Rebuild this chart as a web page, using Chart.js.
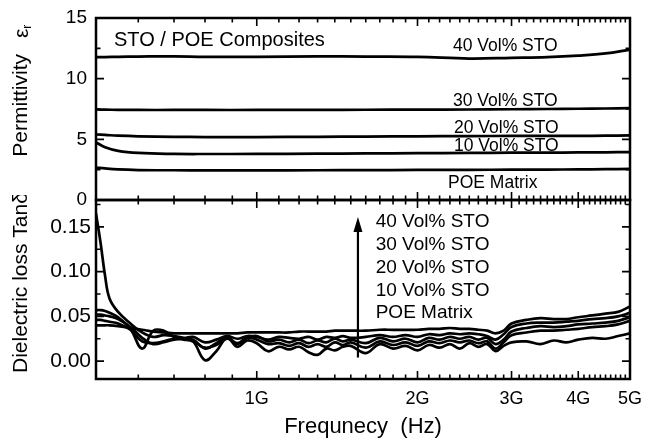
<!DOCTYPE html>
<html>
<head>
<meta charset="utf-8">
<script src="https://cdn.jsdelivr.net/npm/chart.js@4.4.1/dist/chart.umd.min.js"></script>
<style>
  body { margin: 0; background: #fff; }
  #wrap { position: relative; width: 646px; height: 442px; }
  canvas { position: absolute; left: 0; }
</style>
</head>
<body>
<div id="wrap">
  <canvas id="perm" width="646" height="212" style="top:0"></canvas>
  <canvas id="loss" width="646" height="247" style="top:195px"></canvas>
</div>
<script>
const perm = document.getElementById('perm').getContext('2d');
const loss = document.getElementById('loss').getContext('2d');

const FONT = "'Liberation Sans', Arial, Helvetica, sans-serif";

let seriesNames = ['40 Vol% STO', '30 Vol% STO', '20 Vol% STO', '10 Vol% STO', 'POE Matrix'];

// permittivity (frequency in GHz)
let permFreq = [0.5, 0.52, 0.55, 0.6, 0.7, 0.8, 1.0, 1.3, 1.6, 2.0, 2.5, 3.0, 3.5, 4.0, 4.5, 5.0];
let perm40 = [11.78, 11.78, 11.8, 11.82, 11.84, 11.8, 11.8, 11.84, 11.82, 11.8, 11.66, 11.72, 11.78, 11.9, 12.08, 12.4];
let perm30 = [7.46, 7.45, 7.43, 7.42, 7.42, 7.42, 7.42, 7.43, 7.44, 7.45, 7.46, 7.48, 7.5, 7.52, 7.54, 7.58];
let perm20 = [5.4, 5.36, 5.3, 5.25, 5.21, 5.19, 5.19, 5.21, 5.23, 5.25, 5.27, 5.28, 5.28, 5.28, 5.3, 5.32];
let perm10 = [4.75, 4.35, 4.05, 3.88, 3.8, 3.79, 3.8, 3.82, 3.84, 3.86, 3.88, 3.9, 3.9, 3.92, 3.93, 3.95];
let permPOE = [2.68, 2.6, 2.52, 2.47, 2.45, 2.44, 2.44, 2.45, 2.46, 2.48, 2.49, 2.5, 2.51, 2.52, 2.54, 2.56];

// dielectric loss tan delta
let lossFreq = [0.50, 0.51, 0.52, 0.53, 0.55, 0.58, 0.61, 0.64, 0.67, 0.70, 0.73, 0.76, 0.80, 0.84, 0.88, 0.92, 0.96, 1.00,
    1.05, 1.10, 1.15, 1.20, 1.25, 1.30, 1.35, 1.40, 1.45, 1.50, 1.60, 1.70, 1.80, 1.90, 2.00, 2.10, 2.20, 2.30, 2.40, 2.50,
    2.60, 2.70, 2.80, 2.90, 3.00, 3.20, 3.40, 3.60, 3.80, 4.00, 4.25, 4.50, 4.75, 5.00];
let loss40 = [0.040, 0.040, 0.040, 0.040, 0.039, 0.037, 0.035, 0.033, 0.032, 0.031, 0.031, 0.031, 0.031, 0.031, 0.031, 0.031,
    0.032, 0.032, 0.032, 0.032, 0.032, 0.033, 0.033, 0.033, 0.033, 0.034, 0.034, 0.034, 0.034, 0.035, 0.035, 0.035, 0.035,
    0.036, 0.036, 0.037, 0.036, 0.036, 0.035, 0.034, 0.031, 0.034, 0.042, 0.046, 0.048, 0.047, 0.047, 0.049, 0.051, 0.053,
    0.055, 0.061];
let loss30 = [0.165, 0.132, 0.095, 0.070, 0.055, 0.042, 0.032, 0.027, 0.029, 0.028, 0.026, 0.027, 0.021, 0.024, 0.028, 0.025,
    0.028, 0.027, 0.024, 0.027, 0.026, 0.025, 0.027, 0.024, 0.027, 0.026, 0.028, 0.026, 0.027, 0.029, 0.027, 0.029, 0.027,
    0.030, 0.029, 0.031, 0.030, 0.031, 0.030, 0.028, 0.024, 0.030, 0.038, 0.042, 0.043, 0.043, 0.044, 0.045, 0.047, 0.048,
    0.050, 0.054];
let loss20 = [0.057, 0.057, 0.056, 0.054, 0.049, 0.036, 0.014, 0.034, 0.034, 0.027, 0.025, 0.024, 0.014, 0.020, 0.027, 0.019,
    0.026, 0.028, 0.022, 0.024, 0.021, 0.024, 0.020, 0.023, 0.021, 0.025, 0.022, 0.024, 0.020, 0.026, 0.022, 0.025, 0.021,
    0.026, 0.024, 0.027, 0.025, 0.027, 0.024, 0.026, 0.019, 0.024, 0.033, 0.037, 0.039, 0.038, 0.039, 0.041, 0.042, 0.043,
    0.045, 0.049];
let loss10 = [0.046, 0.046, 0.045, 0.044, 0.042, 0.035, 0.022, 0.020, 0.022, 0.025, 0.024, 0.022, 0.015, 0.018, 0.025, 0.020,
    0.026, 0.024, 0.019, 0.020, 0.017, 0.020, 0.016, 0.019, 0.016, 0.021, 0.018, 0.021, 0.015, 0.022, 0.018, 0.021, 0.017,
    0.022, 0.020, 0.023, 0.021, 0.023, 0.020, 0.022, 0.014, 0.021, 0.029, 0.032, 0.034, 0.034, 0.035, 0.036, 0.038, 0.039,
    0.041, 0.045];
let lossPOE = [0.052, 0.052, 0.051, 0.050, 0.047, 0.038, 0.026, 0.019, 0.021, 0.024, 0.025, 0.022, 0.001, 0.011, 0.026, 0.016,
    0.023, 0.020, 0.011, 0.016, 0.013, 0.016, 0.010, 0.007, 0.014, 0.012, 0.016, 0.017, 0.009, 0.019, 0.014, 0.017, 0.012,
    0.018, 0.015, 0.019, 0.014, 0.020, 0.016, 0.019, 0.011, 0.017, 0.021, 0.022, 0.019, 0.023, 0.021, 0.024, 0.026, 0.025,
    0.028, 0.031];

// axis ticks
let xLabels = [1, 2, 3, 4, 5];
let xMinor = [0.6, 0.7, 0.8, 0.9, 1.1, 1.2, 1.3, 1.4, 1.5, 1.6, 1.7, 1.8, 1.9, 2.1, 2.2, 2.3, 2.4, 2.5, 2.6, 2.7, 2.8, 2.9,
    3.1, 3.2, 3.3, 3.4, 3.5, 3.6, 3.7, 3.8, 3.9, 4.1, 4.2, 4.3, 4.4, 4.5, 4.6, 4.7, 4.8, 4.9];
let permTicks = [0, 5, 10, 15];
let permMinor = [2.5, 7.5, 12.5];
let lossTicks = [0, 0.05, 0.10, 0.15];
let lossMinor = [0.025, 0.075, 0.125, 0.175];

Chart.defaults.font.family = FONT;
Chart.defaults.color = '#000';

function lines(freq, rows) {
    return rows.map((r, i) => ({
        label: seriesNames[i],
        data: freq.map((f, j) => ({ x: f, y: r[j] })),
        borderColor: '#000',
        borderWidth: 2.7,
        pointRadius: 0,
        tension: 0.4,
        fill: false
    }));
}

// box, inward ticks, notes and rotated y title
function frame(cfg) {
    return {
        id: 'frame',
        afterDatasetsDraw(chart) {
            const { ctx, chartArea: a } = chart;
            const x = chart.scales.x, y = chart.scales.y;
            ctx.save();
            ctx.strokeStyle = '#000';
            ctx.fillStyle = '#000';
            ctx.lineWidth = 1.6;
            ctx.beginPath();
            const xt = (v, len) => {
                const px = x.getPixelForValue(v);
                ctx.moveTo(px, a.bottom); ctx.lineTo(px, a.bottom - len);
                ctx.moveTo(px, a.top); ctx.lineTo(px, a.top + len);
            };
            const yt = (v, len) => {
                const py = y.getPixelForValue(v);
                ctx.moveTo(a.left, py); ctx.lineTo(a.left + len, py);
                ctx.moveTo(a.right, py); ctx.lineTo(a.right - len, py);
            };
            xLabels.forEach(v => xt(v, 8));
            xMinor.forEach(v => xt(v, 4.5));
            cfg.yMajor.forEach(v => yt(v, 8));
            cfg.yMinor.forEach(v => { if (v <= y.max) yt(v, 4.5); });
            ctx.stroke();

            ctx.lineWidth = 2.5;
            ctx.strokeRect(a.left, a.top, a.right - a.left, a.bottom - a.top);

            ctx.textBaseline = 'alphabetic';
            ctx.textAlign = 'left';
            cfg.notes.forEach(n => {
                ctx.font = n.size + 'px ' + FONT;
                ctx.fillText(n.text, n.x, n.y);
            });

            if (cfg.arrow) {
                const ax = x.getPixelForValue(cfg.arrow.f);
                const y0 = y.getPixelForValue(cfg.arrow.from);
                const y1 = y.getPixelForValue(cfg.arrow.to);
                ctx.lineWidth = 2.2;
                ctx.beginPath();
                ctx.moveTo(ax, y0); ctx.lineTo(ax, y1 + 10);
                ctx.stroke();
                ctx.beginPath();
                ctx.moveTo(ax, y1); ctx.lineTo(ax - 4.5, y1 + 15); ctx.lineTo(ax + 4.5, y1 + 15);
                ctx.closePath();
                ctx.fill();
            }

            const t = cfg.yTitle;
            ctx.translate(t.x, t.y);
            ctx.rotate(-Math.PI / 2);
            t.parts.forEach(p => {
                ctx.font = p.size + 'px ' + FONT;
                ctx.fillText(p.text, p.at, p.shift);
            });
            ctx.restore();
        }
    };
}

const noLabelPad = s => { s.paddingTop = 0; s.paddingBottom = 0; s.paddingLeft = 0; s.paddingRight = 0; };

// TOP PANEL - PERMITTIVITY
new Chart(perm, {
    type: 'line',
    data: { datasets: lines(permFreq, [perm40, perm30, perm20, perm10, permPOE]) },
    options: {
        responsive: false,
        animation: false,
        events: [],
        layout: { padding: { top: 18, bottom: 12, right: 16, left: 0 } },
        scales: {
            x: { type: 'logarithmic', min: 0.5, max: 5, display: false },
            y: {
                min: 0, max: 15,
                afterBuildTicks: s => { s.ticks = permTicks.map(v => ({ value: v })); },
                afterFit: s => { s.width = 96; noLabelPad(s); },
                grid: { display: false, drawTicks: false },
                border: { display: false },
                ticks: { font: { size: 19 }, padding: 9 }
            }
        },
        plugins: { legend: { display: false }, tooltip: { enabled: false } }
    },
    plugins: [frame({
        yMajor: permTicks,
        yMinor: permMinor,
        notes: [
            { text: 'STO / POE Composites', x: 114, y: 46, size: 20 },
            { text: seriesNames[0], x: 453, y: 50.7, size: 17.5 },
            { text: seriesNames[1], x: 453, y: 105.7, size: 17.5 },
            { text: seriesNames[2], x: 454, y: 132.7, size: 17.5 },
            { text: seriesNames[3], x: 454, y: 150.7, size: 17.5 },
            { text: seriesNames[4], x: 448, y: 188.3, size: 17.5 }
        ],
        yTitle: {
            x: 26.7, y: 156.7,
            parts: [
                { text: 'Permittivity', at: 0, size: 21, shift: 0 },
                { text: 'ε', at: 118.7, size: 21, shift: 1 },
                { text: 'r', at: 128, size: 12, shift: 4 }
            ]
        }
    })]
});

// BOTTOM PANEL - DIELECTRIC LOSS
new Chart(loss, {
    type: 'line',
    data: { datasets: lines(lossFreq, [loss40, loss30, loss20, loss10, lossPOE]) },
    options: {
        responsive: false,
        animation: false,
        events: [],
        layout: { padding: { top: 5, bottom: 0, right: 16, left: 0 } },
        scales: {
            x: {
                type: 'logarithmic', min: 0.5, max: 5,
                afterBuildTicks: s => { s.ticks = xLabels.map(v => ({ value: v })); },
                afterFit: s => { s.height = 63; noLabelPad(s); },
                grid: { display: false, drawTicks: false },
                border: { display: false },
                ticks: { font: { size: 18 }, padding: 9, autoSkip: false, maxRotation: 0, callback: v => v + 'G' },
                title: { display: true, text: 'Frequnecy  (Hz)', font: { size: 22 }, padding: { top: 0, bottom: 2 } }
            },
            y: {
                min: -0.02, max: 0.18,
                afterBuildTicks: s => { s.ticks = lossTicks.map(v => ({ value: v })); },
                afterFit: s => { s.width = 96; noLabelPad(s); },
                grid: { display: false, drawTicks: false },
                border: { display: false },
                ticks: { font: { size: 21 }, padding: 5, callback: v => v.toFixed(2) }
            }
        },
        plugins: { legend: { display: false }, tooltip: { enabled: false } }
    },
    plugins: [frame({
        yMajor: lossTicks,
        yMinor: lossMinor,
        notes: seriesNames.map((s, i) => ({ text: s, x: 375.7, y: 32.3 + i * 22.75, size: 19 })),
        arrow: { f: 1.547, from: 0.004, to: 0.161 },
        yTitle: {
            x: 26.7, y: 178,
            parts: [{ text: 'Dielectric loss Tanδ', at: 0, size: 21, shift: 0 }]
        }
    })]
});
</script>
</body>
</html>
